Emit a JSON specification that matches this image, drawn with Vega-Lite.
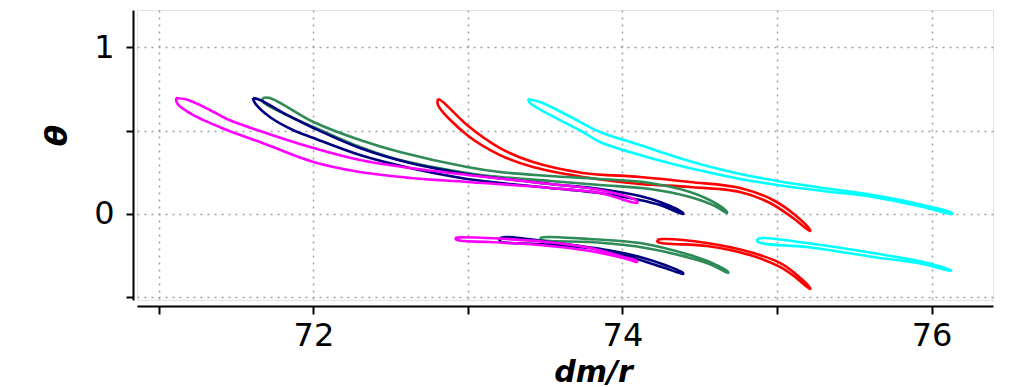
{
  "$schema": "https://vega.github.io/schema/vega-lite/v6.json",
  "width": 856,
  "height": 290,
  "autosize": {"type": "none"},
  "padding": {"left": 137, "top": 10, "right": 27, "bottom": 87},
  "background": "white",
  "config": {"view": {"stroke": "#e3e3e3", "strokeWidth": 1}, "font": "DejaVu Sans"},
  "data": {"values": [
    {"s":"c","l":"c1","o":1,"x":73.388,"y":0.689},
    {"s":"c","l":"c1","o":2,"x":73.466,"y":0.671},
    {"s":"c","l":"c1","o":3,"x":73.641,"y":0.593},
    {"s":"c","l":"c1","o":4,"x":73.854,"y":0.491},
    {"s":"c","l":"c1","o":5,"x":74.113,"y":0.413},
    {"s":"c","l":"c1","o":6,"x":74.327,"y":0.347},
    {"s":"c","l":"c1","o":7,"x":74.547,"y":0.287},
    {"s":"c","l":"c1","o":8,"x":74.761,"y":0.240},
    {"s":"c","l":"c1","o":9,"x":75.000,"y":0.198},
    {"s":"c","l":"c1","o":10,"x":75.298,"y":0.156},
    {"s":"c","l":"c1","o":11,"x":75.621,"y":0.114},
    {"s":"c","l":"c1","o":12,"x":75.945,"y":0.054},
    {"s":"c","l":"c1","o":13,"x":76.133,"y":0.006},
    {"s":"c","l":"c1","o":14,"x":76.133,"y":0.000},
    {"s":"c","l":"c1","o":15,"x":75.945,"y":0.042},
    {"s":"c","l":"c1","o":16,"x":75.621,"y":0.102},
    {"s":"c","l":"c1","o":17,"x":75.298,"y":0.138},
    {"s":"c","l":"c1","o":18,"x":75.000,"y":0.174},
    {"s":"c","l":"c1","o":19,"x":74.761,"y":0.210},
    {"s":"c","l":"c1","o":20,"x":74.547,"y":0.251},
    {"s":"c","l":"c1","o":21,"x":74.327,"y":0.299},
    {"s":"c","l":"c1","o":22,"x":74.113,"y":0.353},
    {"s":"c","l":"c1","o":23,"x":73.854,"y":0.431},
    {"s":"c","l":"c1","o":24,"x":73.744,"y":0.491},
    {"s":"c","l":"c1","o":25,"x":73.531,"y":0.593},
    {"s":"c","l":"c1","o":26,"x":73.401,"y":0.665},
    {"s":"c","l":"c1","o":27,"x":73.388,"y":0.689},
    {"s":"c","l":"c2","o":1,"x":74.871,"y":-0.150},
    {"s":"c","l":"c2","o":2,"x":74.909,"y":-0.144},
    {"s":"c","l":"c2","o":3,"x":75.194,"y":-0.174},
    {"s":"c","l":"c2","o":4,"x":75.621,"y":-0.234},
    {"s":"c","l":"c2","o":5,"x":75.945,"y":-0.287},
    {"s":"c","l":"c2","o":6,"x":76.120,"y":-0.335},
    {"s":"c","l":"c2","o":7,"x":76.126,"y":-0.341},
    {"s":"c","l":"c2","o":8,"x":75.945,"y":-0.299},
    {"s":"c","l":"c2","o":9,"x":75.621,"y":-0.257},
    {"s":"c","l":"c2","o":10,"x":75.194,"y":-0.198},
    {"s":"c","l":"c2","o":11,"x":74.877,"y":-0.168},
    {"s":"c","l":"c2","o":12,"x":74.871,"y":-0.150},
    {"s":"r","l":"r1","o":1,"x":72.806,"y":0.689},
    {"s":"r","l":"r1","o":2,"x":72.838,"y":0.671},
    {"s":"r","l":"r1","o":3,"x":72.994,"y":0.533},
    {"s":"r","l":"r1","o":4,"x":73.207,"y":0.395},
    {"s":"r","l":"r1","o":5,"x":73.421,"y":0.311},
    {"s":"r","l":"r1","o":6,"x":73.744,"y":0.246},
    {"s":"r","l":"r1","o":7,"x":74.113,"y":0.222},
    {"s":"r","l":"r1","o":8,"x":74.437,"y":0.192},
    {"s":"r","l":"r1","o":9,"x":74.761,"y":0.156},
    {"s":"r","l":"r1","o":10,"x":74.974,"y":0.084},
    {"s":"r","l":"r1","o":11,"x":75.117,"y":-0.006},
    {"s":"r","l":"r1","o":12,"x":75.214,"y":-0.096},
    {"s":"r","l":"r1","o":13,"x":75.214,"y":-0.102},
    {"s":"r","l":"r1","o":14,"x":75.104,"y":-0.024},
    {"s":"r","l":"r1","o":15,"x":74.955,"y":0.066},
    {"s":"r","l":"r1","o":16,"x":74.761,"y":0.132},
    {"s":"r","l":"r1","o":17,"x":74.437,"y":0.162},
    {"s":"r","l":"r1","o":18,"x":74.113,"y":0.180},
    {"s":"r","l":"r1","o":19,"x":73.744,"y":0.222},
    {"s":"r","l":"r1","o":20,"x":73.421,"y":0.281},
    {"s":"r","l":"r1","o":21,"x":73.207,"y":0.353},
    {"s":"r","l":"r1","o":22,"x":72.994,"y":0.473},
    {"s":"r","l":"r1","o":23,"x":72.806,"y":0.653},
    {"s":"r","l":"r1","o":24,"x":72.806,"y":0.689},
    {"s":"r","l":"r2","o":1,"x":74.223,"y":-0.156},
    {"s":"r","l":"r2","o":2,"x":74.262,"y":-0.150},
    {"s":"r","l":"r2","o":3,"x":74.547,"y":-0.174},
    {"s":"r","l":"r2","o":4,"x":74.825,"y":-0.228},
    {"s":"r","l":"r2","o":5,"x":75.019,"y":-0.293},
    {"s":"r","l":"r2","o":6,"x":75.129,"y":-0.365},
    {"s":"r","l":"r2","o":7,"x":75.214,"y":-0.443},
    {"s":"r","l":"r2","o":8,"x":75.214,"y":-0.449},
    {"s":"r","l":"r2","o":9,"x":75.117,"y":-0.377},
    {"s":"r","l":"r2","o":10,"x":75.019,"y":-0.317},
    {"s":"r","l":"r2","o":11,"x":74.825,"y":-0.246},
    {"s":"r","l":"r2","o":12,"x":74.547,"y":-0.192},
    {"s":"r","l":"r2","o":13,"x":74.230,"y":-0.168},
    {"s":"r","l":"r2","o":14,"x":74.223,"y":-0.156},
    {"s":"g","l":"g1","o":1,"x":71.673,"y":0.695},
    {"s":"g","l":"g1","o":2,"x":71.718,"y":0.695},
    {"s":"g","l":"g1","o":3,"x":72.000,"y":0.551},
    {"s":"g","l":"g1","o":4,"x":72.301,"y":0.443},
    {"s":"g","l":"g1","o":5,"x":72.560,"y":0.371},
    {"s":"g","l":"g1","o":6,"x":72.994,"y":0.281},
    {"s":"g","l":"g1","o":7,"x":73.207,"y":0.251},
    {"s":"g","l":"g1","o":8,"x":73.531,"y":0.228},
    {"s":"g","l":"g1","o":9,"x":73.854,"y":0.210},
    {"s":"g","l":"g1","o":10,"x":74.178,"y":0.186},
    {"s":"g","l":"g1","o":11,"x":74.437,"y":0.132},
    {"s":"g","l":"g1","o":12,"x":74.599,"y":0.066},
    {"s":"g","l":"g1","o":13,"x":74.676,"y":0.012},
    {"s":"g","l":"g1","o":14,"x":74.676,"y":0.006},
    {"s":"g","l":"g1","o":15,"x":74.599,"y":0.048},
    {"s":"g","l":"g1","o":16,"x":74.437,"y":0.102},
    {"s":"g","l":"g1","o":17,"x":74.178,"y":0.150},
    {"s":"g","l":"g1","o":18,"x":73.854,"y":0.174},
    {"s":"g","l":"g1","o":19,"x":73.531,"y":0.198},
    {"s":"g","l":"g1","o":20,"x":73.207,"y":0.222},
    {"s":"g","l":"g1","o":21,"x":72.994,"y":0.246},
    {"s":"g","l":"g1","o":22,"x":72.560,"y":0.323},
    {"s":"g","l":"g1","o":23,"x":72.301,"y":0.401},
    {"s":"g","l":"g1","o":24,"x":72.000,"y":0.521},
    {"s":"g","l":"g1","o":25,"x":71.828,"y":0.593},
    {"s":"g","l":"g1","o":26,"x":71.673,"y":0.671},
    {"s":"g","l":"g1","o":27,"x":71.673,"y":0.695},
    {"s":"g","l":"g2","o":1,"x":73.466,"y":-0.144},
    {"s":"g","l":"g2","o":2,"x":73.511,"y":-0.138},
    {"s":"g","l":"g2","o":3,"x":73.790,"y":-0.150},
    {"s":"g","l":"g2","o":4,"x":74.113,"y":-0.174},
    {"s":"g","l":"g2","o":5,"x":74.437,"y":-0.246},
    {"s":"g","l":"g2","o":6,"x":74.579,"y":-0.293},
    {"s":"g","l":"g2","o":7,"x":74.683,"y":-0.347},
    {"s":"g","l":"g2","o":8,"x":74.683,"y":-0.353},
    {"s":"g","l":"g2","o":9,"x":74.579,"y":-0.305},
    {"s":"g","l":"g2","o":10,"x":74.437,"y":-0.263},
    {"s":"g","l":"g2","o":11,"x":74.113,"y":-0.198},
    {"s":"g","l":"g2","o":12,"x":73.790,"y":-0.168},
    {"s":"g","l":"g2","o":13,"x":73.479,"y":-0.156},
    {"s":"g","l":"g2","o":14,"x":73.466,"y":-0.144},
    {"s":"n","l":"n1","o":1,"x":71.608,"y":0.695},
    {"s":"n","l":"n1","o":2,"x":71.654,"y":0.683},
    {"s":"n","l":"n1","o":3,"x":71.828,"y":0.593},
    {"s":"n","l":"n1","o":4,"x":72.000,"y":0.515},
    {"s":"n","l":"n1","o":5,"x":72.301,"y":0.395},
    {"s":"n","l":"n1","o":6,"x":72.625,"y":0.305},
    {"s":"n","l":"n1","o":7,"x":72.994,"y":0.240},
    {"s":"n","l":"n1","o":8,"x":73.531,"y":0.180},
    {"s":"n","l":"n1","o":9,"x":73.854,"y":0.150},
    {"s":"n","l":"n1","o":10,"x":74.113,"y":0.108},
    {"s":"n","l":"n1","o":11,"x":74.243,"y":0.072},
    {"s":"n","l":"n1","o":12,"x":74.392,"y":0.006},
    {"s":"n","l":"n1","o":13,"x":74.392,"y":0.000},
    {"s":"n","l":"n1","o":14,"x":74.243,"y":0.054},
    {"s":"n","l":"n1","o":15,"x":74.113,"y":0.084},
    {"s":"n","l":"n1","o":16,"x":73.854,"y":0.126},
    {"s":"n","l":"n1","o":17,"x":73.531,"y":0.156},
    {"s":"n","l":"n1","o":18,"x":72.994,"y":0.210},
    {"s":"n","l":"n1","o":19,"x":72.625,"y":0.275},
    {"s":"n","l":"n1","o":20,"x":72.301,"y":0.353},
    {"s":"n","l":"n1","o":21,"x":72.000,"y":0.455},
    {"s":"n","l":"n1","o":22,"x":71.867,"y":0.503},
    {"s":"n","l":"n1","o":23,"x":71.718,"y":0.581},
    {"s":"n","l":"n1","o":24,"x":71.621,"y":0.665},
    {"s":"n","l":"n1","o":25,"x":71.608,"y":0.695},
    {"s":"n","l":"n2","o":1,"x":73.207,"y":-0.144},
    {"s":"n","l":"n2","o":2,"x":73.252,"y":-0.138},
    {"s":"n","l":"n2","o":3,"x":73.576,"y":-0.174},
    {"s":"n","l":"n2","o":4,"x":73.900,"y":-0.216},
    {"s":"n","l":"n2","o":5,"x":74.113,"y":-0.257},
    {"s":"n","l":"n2","o":6,"x":74.275,"y":-0.305},
    {"s":"n","l":"n2","o":7,"x":74.392,"y":-0.353},
    {"s":"n","l":"n2","o":8,"x":74.392,"y":-0.359},
    {"s":"n","l":"n2","o":9,"x":74.275,"y":-0.323},
    {"s":"n","l":"n2","o":10,"x":74.003,"y":-0.246},
    {"s":"n","l":"n2","o":11,"x":73.790,"y":-0.204},
    {"s":"n","l":"n2","o":12,"x":73.466,"y":-0.180},
    {"s":"n","l":"n2","o":13,"x":73.207,"y":-0.162},
    {"s":"n","l":"n2","o":14,"x":73.207,"y":-0.144},
    {"s":"m","l":"m1","o":1,"x":71.110,"y":0.695},
    {"s":"m","l":"m1","o":2,"x":71.180,"y":0.685},
    {"s":"m","l":"m1","o":3,"x":71.330,"y":0.623},
    {"s":"m","l":"m1","o":4,"x":71.440,"y":0.569},
    {"s":"m","l":"m1","o":5,"x":71.654,"y":0.497},
    {"s":"m","l":"m1","o":6,"x":72.000,"y":0.395},
    {"s":"m","l":"m1","o":7,"x":72.301,"y":0.323},
    {"s":"m","l":"m1","o":8,"x":72.625,"y":0.275},
    {"s":"m","l":"m1","o":9,"x":72.994,"y":0.234},
    {"s":"m","l":"m1","o":10,"x":73.531,"y":0.180},
    {"s":"m","l":"m1","o":11,"x":73.854,"y":0.144},
    {"s":"m","l":"m1","o":12,"x":74.094,"y":0.078},
    {"s":"m","l":"m1","o":13,"x":74.094,"y":0.066},
    {"s":"m","l":"m1","o":14,"x":73.854,"y":0.126},
    {"s":"m","l":"m1","o":15,"x":73.531,"y":0.156},
    {"s":"m","l":"m1","o":16,"x":72.994,"y":0.192},
    {"s":"m","l":"m1","o":17,"x":72.625,"y":0.216},
    {"s":"m","l":"m1","o":18,"x":72.301,"y":0.251},
    {"s":"m","l":"m1","o":19,"x":72.000,"y":0.311},
    {"s":"m","l":"m1","o":20,"x":71.654,"y":0.431},
    {"s":"m","l":"m1","o":21,"x":71.440,"y":0.503},
    {"s":"m","l":"m1","o":22,"x":71.220,"y":0.593},
    {"s":"m","l":"m1","o":23,"x":71.120,"y":0.660},
    {"s":"m","l":"m1","o":24,"x":71.110,"y":0.695},
    {"s":"m","l":"m2","o":1,"x":72.916,"y":-0.144},
    {"s":"m","l":"m2","o":2,"x":72.948,"y":-0.140},
    {"s":"m","l":"m2","o":3,"x":73.252,"y":-0.150},
    {"s":"m","l":"m2","o":4,"x":73.576,"y":-0.174},
    {"s":"m","l":"m2","o":5,"x":73.790,"y":-0.204},
    {"s":"m","l":"m2","o":6,"x":74.003,"y":-0.257},
    {"s":"m","l":"m2","o":7,"x":74.094,"y":-0.281},
    {"s":"m","l":"m2","o":8,"x":74.094,"y":-0.287},
    {"s":"m","l":"m2","o":9,"x":74.029,"y":-0.269},
    {"s":"m","l":"m2","o":10,"x":73.790,"y":-0.222},
    {"s":"m","l":"m2","o":11,"x":73.466,"y":-0.186},
    {"s":"m","l":"m2","o":12,"x":73.142,"y":-0.168},
    {"s":"m","l":"m2","o":13,"x":72.929,"y":-0.156},
    {"s":"m","l":"m2","o":14,"x":72.916,"y":-0.144}
  ]},
  "mark": {"type": "line", "interpolate": "catmull-rom", "strokeWidth": 2.6},
  "encoding": {
    "x": {
      "field": "x", "type": "quantitative",
      "scale": {"domain": [70.858, 76.398], "nice": false, "zero": false},
      "axis": {
        "values": [71, 72, 73, 74, 75, 76],
        "format": "d",
        "labelExpr": "datum.value % 2 === 0 ? datum.label : ''",
        "offset": 6,
        "domainColor": "black", "domainWidth": 2,
        "tickColor": "black", "tickWidth": 2, "tickSize": 8,
        "labelFont": "DejaVu Sans", "labelFontSize": 32, "labelColor": "black", "labelPadding": 6, "labelFlush": false,
        "grid": true, "gridColor": "#a0a0a0", "gridDash": [2, 5], "gridWidth": 1.5,
        "title": "dm/r", "titleFont": "DejaVu Sans", "titleFontSize": 30, "titleFontWeight": "bold", "titleFontStyle": "italic", "titleColor": "black",
        "titleX": 456, "titleY": 75, "titleAlign": "center", "titleBaseline": "alphabetic", "titleAnchor": null
      }
    },
    "y": {
      "field": "y", "type": "quantitative",
      "scale": {"domain": [-0.515, 1.2216], "nice": false, "zero": false},
      "axis": {
        "values": [-0.5, 0, 0.5, 1],
        "labelExpr": "datum.value === 0 || datum.value === 1 ? format(datum.value, 'd') : ''",
        "offset": 4,
        "domainColor": "black", "domainWidth": 2,
        "tickColor": "black", "tickWidth": 2, "tickSize": 7,
        "labelFont": "DejaVu Sans", "labelFontSize": 32, "labelColor": "black", "labelPadding": 12, "labelFlush": false,
        "grid": true, "gridColor": "#a0a0a0", "gridDash": [2, 5], "gridWidth": 1.5,
        "title": "θ", "titleFont": "DejaVu Sans", "titleFontSize": 31, "titleFontWeight": "bold", "titleFontStyle": "italic", "titleColor": "black",
        "titleX": -76, "titleY": 125, "titleAngle": -90, "titleAlign": "center", "titleBaseline": "middle", "titleAnchor": null
      }
    },
    "color": {
      "field": "s", "type": "nominal",
      "scale": {"domain": ["c", "r", "g", "n", "m"], "range": ["#00ffff", "#ff0000", "#2e8b57", "#000080", "#ff00ff"]},
      "legend": null
    },
    "detail": {"field": "l", "type": "nominal"},
    "order": {"field": "o", "type": "quantitative"}
  }
}
